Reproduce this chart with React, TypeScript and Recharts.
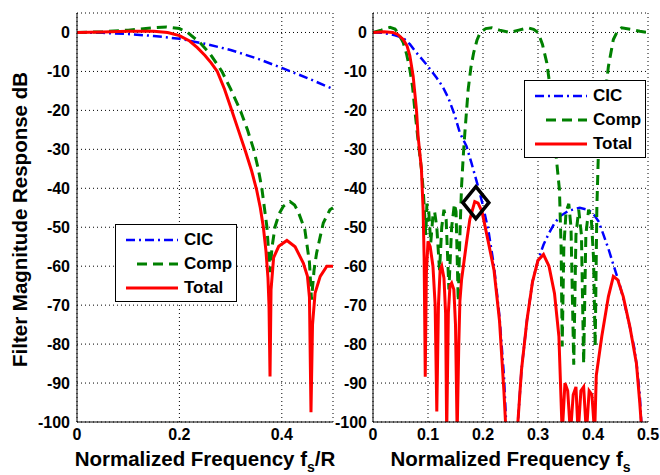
import React from 'react';
import { LineChart, ComposedChart, Line, Scatter, CartesianGrid, XAxis, YAxis, Legend } from 'recharts';

const FONT = '"Liberation Sans", Arial, Helvetica, sans-serif';

// axis ticks
const yTicks = [-100, -90, -80, -70, -60, -50, -40, -30, -20, -10, 0];
const leftXTicks = [0, 0.2, 0.4];
const rightXTicks = [0, 0.1, 0.2, 0.3, 0.4, 0.5];

// left panel: frequency normalised to f_s/R, [f, dB]
const leftCic = [
  [0, 0], [0.05, -0.1], [0.1, -0.4], [0.15, -0.9], [0.2, -1.6], [0.25, -2.9],
  [0.3, -4.5], [0.35, -6.6], [0.4, -9.1], [0.45, -11.7], [0.5, -14.5],
];
const leftComp = [
  [0, 0], [0.05, 0.2], [0.1, 0.6], [0.15, 1.2], [0.175, 1.4], [0.2, 1], [0.216, 0],
  [0.24, -2.6], [0.26, -5.5], [0.274, -8.2], [0.283, -10], [0.3, -14.5], [0.319, -20],
  [0.333, -25], [0.345, -30], [0.354, -35], [0.361, -40], [0.366, -45], [0.371, -50],
  [0.374, -56], [0.377, -61.5], [0.381, -55], [0.387, -49.8], [0.395, -46.5],
  [0.403, -44.6], [0.416, -43.4], [0.425, -44.3], [0.432, -46], [0.445, -50.6],
  [0.454, -59], [0.458, -68.6], [0.463, -61], [0.468, -56.6], [0.481, -48.9],
  [0.494, -45.5], [0.5, -45],
];
const leftTotal = [
  [0, 0], [0.05, 0.1], [0.1, 0.3], [0.15, 0.3], [0.177, 0], [0.2, -0.8], [0.22, -2.2],
  [0.235, -3.9], [0.25, -5.9], [0.262, -7.8], [0.274, -10], [0.288, -14.5], [0.301, -19.5],
  [0.315, -25], [0.329, -30.5], [0.341, -35.5], [0.351, -40.5], [0.358, -45], [0.364, -50],
  [0.369, -56], [0.373, -63], [0.375, -70], [0.377, -88.3], [0.379, -66], [0.384, -57.8],
  [0.394, -54.9], [0.41, -53.4], [0.426, -55], [0.442, -59.2], [0.45, -62.5],
  [0.454, -68], [0.457, -97.5], [0.46, -75], [0.465, -66.9], [0.475, -62.6],
  [0.488, -60], [0.5, -60],
];

// right panel: frequency normalised to f_s, [f, dB]
const rightCic = [
  [0, 0], [0.018, -0.1], [0.04, -0.7], [0.055, -1.4], [0.067, -3], [0.079, -5.2],
  [0.09, -7], [0.1, -8.7], [0.116, -11.7], [0.127, -14], [0.137, -16.8], [0.148, -21],
  [0.158, -25.8], [0.17, -29.2], [0.179, -33.5], [0.185, -36.5], [0.192, -40],
  [0.2, -44.5], [0.21, -51], [0.22, -60], [0.23, -73], [0.238, -88], [0.243, -103],
  [0.262, -103], [0.27, -86.6], [0.28, -73.8], [0.29, -64], [0.3, -58.5], [0.31, -54.5],
  [0.32, -51.5], [0.33, -49], [0.34, -47.2], [0.355, -45.8], [0.376, -45], [0.39, -45.5],
  [0.4, -46.4], [0.41, -48.5], [0.418, -51.5], [0.428, -55.5], [0.437, -59.6],
  [0.449, -65], [0.458, -70], [0.467, -75.6], [0.475, -81], [0.48, -86], [0.485, -93],
  [0.489, -103], [0.5, -103],
];
const rightComp = [
  [0, 0], [0.015, 0.6], [0.031, 1.3], [0.04, 0.9], [0.047, -0.5], [0.055, -2.6],
  [0.061, -5.5], [0.067, -9.5], [0.072, -14], [0.076, -19.8], [0.0825, -28.4],
  [0.088, -35], [0.0915, -40.8], [0.094, -47], [0.096, -52], [0.098, -44], [0.101, -45],
  [0.105, -54], [0.109, -47], [0.112, -46], [0.116, -50], [0.121, -61], [0.125, -50],
  [0.129, -45.5], [0.133, -48], [0.138, -66], [0.143, -50], [0.148, -44], [0.151, -46],
  [0.155, -69], [0.158, -52], [0.161, -39.5], [0.164, -32], [0.167, -25.8],
  [0.173, -14.7], [0.178, -9], [0.183, -5.2], [0.189, -2], [0.195, 0], [0.205, 1],
  [0.216, 1.2], [0.23, 0.6], [0.249, 0], [0.265, 0.6], [0.282, 1.2], [0.292, 0.8],
  [0.3, 0], [0.308, -3], [0.316, -7.8], [0.321, -13], [0.325, -19], [0.329, -25],
  [0.333, -31.8], [0.339, -40.4], [0.342, -55], [0.344, -80.6], [0.347, -55],
  [0.351, -46], [0.356, -44], [0.36, -50], [0.365, -85.3], [0.369, -52], [0.374, -45.5],
  [0.379, -52], [0.383, -85], [0.387, -52], [0.392, -45.5], [0.397, -48], [0.401, -58],
  [0.404, -80.6], [0.407, -45], [0.41, -30], [0.419, -19.8], [0.428, -8.7],
  [0.437, -1.8], [0.445, 0.5], [0.452, 1.2], [0.47, 0.8], [0.485, 0.3], [0.5, 0],
];
const rightTotal = [
  [0, 0], [0.02, 0.2], [0.036, 0], [0.045, -0.5], [0.055, -1.8], [0.062, -3.5],
  [0.067, -6], [0.073, -11.2], [0.079, -19.8], [0.082, -26.6], [0.088, -35],
  [0.091, -45], [0.093, -58], [0.095, -88.4], [0.097, -62], [0.1, -53.6], [0.104, -55],
  [0.109, -60], [0.113, -70], [0.116, -97.3], [0.119, -70], [0.122, -61], [0.125, -60],
  [0.129, -63], [0.132, -72], [0.134, -103], [0.137, -72], [0.14, -65], [0.143, -64.3],
  [0.147, -66], [0.15, -75], [0.153, -103], [0.156, -80], [0.158, -69], [0.161, -63.5],
  [0.17, -54], [0.176, -48], [0.185, -43.4], [0.191, -43.8], [0.198, -45.9], [0.21, -54],
  [0.22, -61], [0.23, -74], [0.238, -92], [0.242, -103], [0.262, -103], [0.27, -86.6],
  [0.28, -73.8], [0.29, -64], [0.3, -58.5], [0.31, -57], [0.32, -60], [0.33, -67],
  [0.338, -78], [0.344, -103], [0.349, -90], [0.354, -92], [0.359, -103], [0.364, -93],
  [0.369, -91], [0.373, -103], [0.378, -92], [0.383, -91], [0.388, -103], [0.393, -92],
  [0.398, -93], [0.403, -103], [0.406, -88], [0.416, -78], [0.428, -67.8],
  [0.437, -62.6], [0.445, -63.5], [0.455, -67.8], [0.467, -75.5], [0.479, -85],
  [0.485, -95], [0.489, -103], [0.5, -103],
];

// marked point on the right panel
const markerPoint = [[0.187, -43.7]];

const seriesNames = ['CIC', 'Comp', 'Total'];

const styles = {
  CIC: { color: '#0000ff', dash: '9 4 2 4', width: 2.5 },
  Comp: { color: '#008000', dash: '10 6', width: 3 },
  Total: { color: '#ff0000', dash: undefined, width: 3 },
};

const toPts = (arr) => arr.map(([f, db]) => ({ f, db }));

const tickStyle = { fontSize: 16, fontWeight: 'bold', fill: '#000', fontFamily: FONT };

function LegendBox() {
  return (
    <div
      style={{
        width: 122,
        height: 78,
        border: '1.5px solid #000',
        background: '#fff',
        boxSizing: 'border-box',
        position: 'relative',
        fontFamily: FONT,
        fontWeight: 'bold',
        fontSize: 17,
        color: '#000',
      }}
    >
      {seriesNames.map((name, i) => {
        const s = styles[name];
        return (
          <div
            key={name}
            style={{ position: 'absolute', left: 9, top: 3 + i * 24, height: 24, display: 'flex', alignItems: 'center' }}
          >
            <svg width={54} height={6}>
              <line
                x1={name === 'Comp' ? 12 : 1}
                y1={3}
                x2={53}
                y2={3}
                stroke={s.color}
                strokeWidth={s.width}
                strokeDasharray={s.dash}
              />
            </svg>
            <span style={{ marginLeft: 5, lineHeight: '24px' }}>{name}</span>
          </div>
        );
      })}
    </div>
  );
}

function XLabel({ viewBox, tail }) {
  const { x, y, width } = viewBox;
  return (
    <text
      x={x + width / 2}
      y={y + 44}
      textAnchor="middle"
      fontFamily={FONT}
      fontWeight="bold"
      fontSize={20.5}
      fill="#000"
    >
      <tspan>Normalized Frequency f</tspan>
      <tspan dy={6} fontSize={14}>s</tspan>
      {tail ? <tspan dy={-6}>{tail}</tspan> : null}
    </text>
  );
}

function YLabel({ viewBox }) {
  const { x, y, height } = viewBox;
  const cx = x + 27;
  const cy = y + height / 2 + 2;
  return (
    <text
      x={cx}
      y={cy}
      transform={`rotate(-90, ${cx}, ${cy})`}
      textAnchor="middle"
      fontFamily={FONT}
      fontWeight="bold"
      fontSize={20.5}
      fill="#000"
    >
      Filter Magnitude Response dB
    </text>
  );
}

function Diamond({ cx, cy }) {
  if (cx == null || cy == null) return null;
  return (
    <polygon
      points={`${cx},${cy - 16} ${cx + 13},${cy} ${cx},${cy + 16} ${cx - 13},${cy}`}
      fill="none"
      stroke="#000"
      strokeWidth={3.5}
    />
  );
}

// box + inward tick marks in MATLAB style
function frameAxes(xTicks) {
  return [
    <XAxis key="xb" xAxisId="bm" type="number" domain={[0, 0.5]} ticks={xTicks} orientation="bottom" mirror height={0} tick={false} tickSize={5} axisLine={false} tickLine={{ stroke: '#000' }} />,
    <XAxis key="xt" xAxisId="top" type="number" domain={[0, 0.5]} ticks={xTicks} orientation="top" mirror height={0} tick={false} tickSize={5} axisLine={{ stroke: '#000' }} tickLine={{ stroke: '#000' }} />,
    <YAxis key="yl" yAxisId="lm" type="number" domain={[-100, 5]} ticks={yTicks} orientation="left" mirror width={0} tick={false} tickSize={5} axisLine={false} tickLine={{ stroke: '#000' }} />,
    <YAxis key="yr" yAxisId="right" type="number" domain={[-100, 5]} ticks={yTicks} orientation="right" mirror width={0} tick={false} tickSize={5} axisLine={{ stroke: '#000' }} tickLine={{ stroke: '#000' }} />,
  ];
}

function seriesLines(cic, comp, total) {
  const sets = { CIC: cic, Comp: comp, Total: total };
  return seriesNames.map((name) => (
    <Line
      key={name}
      data={toPts(sets[name])}
      dataKey="db"
      name={name}
      type="linear"
      stroke={styles[name].color}
      strokeWidth={styles[name].width}
      strokeDasharray={styles[name].dash}
      dot={false}
      activeDot={false}
      isAnimationActive={false}
    />
  ));
}

export default function App() {
  return (
    <div style={{ position: 'absolute', left: 0, top: 0, width: 660, height: 475, background: '#fff', overflow: 'hidden' }}>
      <div style={{ position: 'absolute', left: 0, top: 0 }}>
        <LineChart width={340} height={475} margin={{ top: 13, right: 7, bottom: 0, left: 0 }}>
          <CartesianGrid stroke="#000" strokeDasharray="1 3" strokeWidth={1} />
          <XAxis
            dataKey="f"
            type="number"
            domain={[0, 0.5]}
            ticks={leftXTicks}
            height={53}
            tickSize={0}
            tickMargin={7}
            tick={tickStyle}
            axisLine={{ stroke: '#000' }}
            label={{ content: (p) => <XLabel viewBox={p.viewBox} tail="/R" /> }}
          />
          <YAxis
            type="number"
            domain={[-100, 5]}
            ticks={yTicks}
            width={77}
            allowDataOverflow
            tickSize={0}
            tickMargin={7}
            tick={tickStyle}
            axisLine={{ stroke: '#000' }}
            label={{ content: (p) => <YLabel viewBox={p.viewBox} /> }}
          />
          {frameAxes(leftXTicks)}
          {seriesLines(leftCic, leftComp, leftTotal)}
          <Legend
            layout="vertical"
            align="center"
            verticalAlign="middle"
            content={() => <LegendBox />}
            wrapperStyle={{ left: 115, top: 224, width: 122, height: 78 }}
          />
        </LineChart>
      </div>
      <div style={{ position: 'absolute', left: 330, top: 0 }}>
        <ComposedChart width={330} height={475} margin={{ top: 13, right: 12, bottom: 0, left: 0 }}>
          <CartesianGrid stroke="#000" strokeDasharray="1 3" strokeWidth={1} />
          <XAxis
            dataKey="f"
            type="number"
            domain={[0, 0.5]}
            ticks={rightXTicks}
            height={53}
            tickSize={0}
            tickMargin={7}
            tick={tickStyle}
            axisLine={{ stroke: '#000' }}
            label={{ content: (p) => <XLabel viewBox={p.viewBox} /> }}
          />
          <YAxis
            type="number"
            domain={[-100, 5]}
            ticks={yTicks}
            width={43}
            allowDataOverflow
            tickSize={0}
            tickMargin={6}
            tick={tickStyle}
            axisLine={{ stroke: '#000' }}
          />
          {frameAxes(rightXTicks)}
          {seriesLines(rightCic, rightComp, rightTotal)}
          <Scatter data={toPts(markerPoint)} dataKey="db" shape={(p) => <Diamond cx={p.cx} cy={p.cy} />} isAnimationActive={false} />
          <Legend
            layout="vertical"
            align="center"
            verticalAlign="middle"
            content={() => <LegendBox />}
            wrapperStyle={{ left: 194, top: 80, width: 122, height: 78 }}
          />
        </ComposedChart>
      </div>
    </div>
  );
}
